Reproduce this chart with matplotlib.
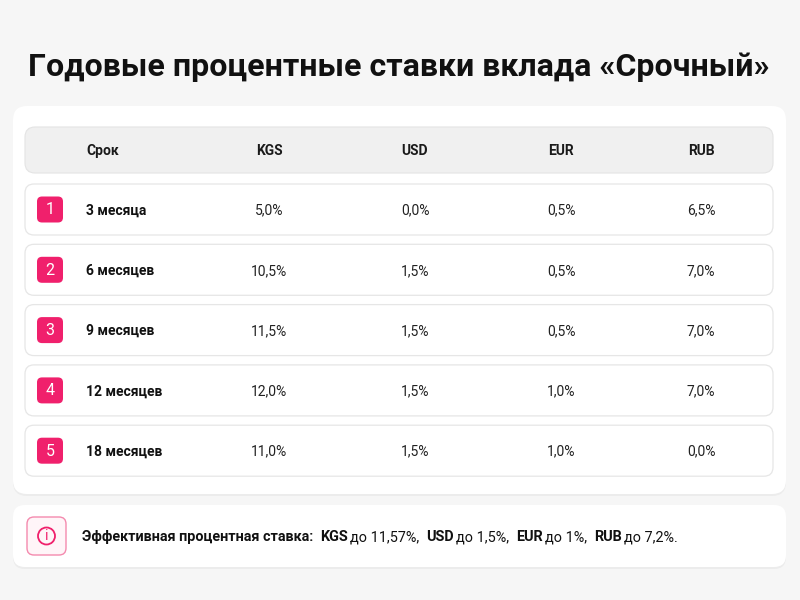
import matplotlib.pyplot as plt
from matplotlib.patches import FancyBboxPatch, Circle

# ---- data ----
title = "Годовые процентные ставки вклада «Срочный»"
columns = ["Срок", "KGS", "USD", "EUR", "RUB"]
terms = ["3 месяца", "6 месяцев", "9 месяцев", "12 месяцев", "18 месяцев"]
kgs = ["5,0%", "10,5%", "11,5%", "12,0%", "11,0%"]
usd = ["0,0%", "1,5%", "1,5%", "1,5%", "1,5%"]
eur = ["0,5%", "0,5%", "0,5%", "1,0%", "1,0%"]
rub = ["6,5%", "7,0%", "7,0%", "7,0%", "0,0%"]
note_label = "Эффективная процентная ставка:"
note_parts = [("KGS", "до 11,57%,"), ("USD", "до 1,5%,"), ("EUR", "до 1%,"), ("RUB", "до 7,2%.")]

PINK = "#f0206c"
FONT = "Roboto"

fig = plt.figure(figsize=(8, 6), dpi=100)
fig.patch.set_facecolor("#f6f6f6")
ax = fig.add_axes([0, 0, 1, 1])
ax.set_xlim(0, 800)
ax.set_ylim(600, 0)
ax.axis("off")


def box(x, y, w, h, r, fc, ec="none", lw=1.0, z=1):
    p = FancyBboxPatch((x + r, y + r), w - 2 * r, h - 2 * r,
                       boxstyle=f"round,pad={r}", fc=fc, ec=ec, lw=lw, zorder=z)
    ax.add_patch(p)


# title
ax.text(399, 67, title, ha="center", va="center", fontsize=23.1,
        fontweight="bold", family=FONT, color="#111111")

# main card (with a soft shadow)
box(13, 108, 773, 388, 14, "#ececec", z=0.5)
box(13, 106, 773, 388, 14, "white", z=1)

# header row
box(25, 127, 748, 46, 10, "#f0f0f0", ec="#e4e4e4", lw=0.8, z=2)
col_x = [86, 269, 415, 561, 701]
for i, c in enumerate(columns):
    ax.text(col_x[i], 151, c, ha="left" if i == 0 else "center", va="center",
            fontsize=10, fontweight="bold", family=FONT, color="#1a1a1a", zorder=3)

# rows
row_top = 184
row_step = 60.3
for i, term in enumerate(terms):
    y0 = row_top + i * row_step
    yc = y0 + 25.5
    box(25, y0, 748, 51, 9, "white", ec="#e6e6e6", lw=0.9, z=2)
    box(37, yc - 13, 26, 26, 5, PINK, z=3)
    ax.text(50, yc + 0.5, str(i + 1), ha="center", va="center", fontsize=11.5,
            color="white", family=FONT, zorder=4)
    ax.text(col_x[0], yc + 1, term, ha="left", va="center", fontsize=10,
            fontweight="bold", family=FONT, color="#111111", zorder=4)
    for j, vals in enumerate([kgs, usd, eur, rub]):
        ax.text(col_x[j + 1], yc + 1, vals[i], ha="center", va="center",
                fontsize=10, family=FONT, color="#222222", zorder=4)

# note card
box(13, 507, 773, 62, 12, "#ececec", z=0.5)
box(13, 505, 773, 62, 12, "white", z=1)
box(27, 517, 39, 38, 7, "#fff5f8", ec="#f48aae", lw=1.0, z=2)
ax.add_patch(Circle((46.5, 536), 8.5, fc="none", ec=PINK, lw=1.3, zorder=3))
ax.text(46.5, 536.5, "i", ha="center", va="center", fontsize=10, color=PINK,
        family=FONT, zorder=4)

renderer = fig.canvas.get_renderer()
inv = ax.transData.inverted()


def put(x, s, bold):
    t = ax.text(x, 537, s, ha="left", va="center", fontsize=10.35,
                fontweight="bold" if bold else "normal", family=FONT,
                color="#111111", zorder=4)
    bb = t.get_window_extent(renderer=renderer)
    return inv.transform((bb.x1, bb.y0))[0]


x = put(82, note_label, True) + 7
for code, txt in note_parts:
    x = put(x, code, True) + 2
    x = put(x, txt, False) + 7

fig.savefig("out.png", dpi=100, facecolor=fig.get_facecolor())
